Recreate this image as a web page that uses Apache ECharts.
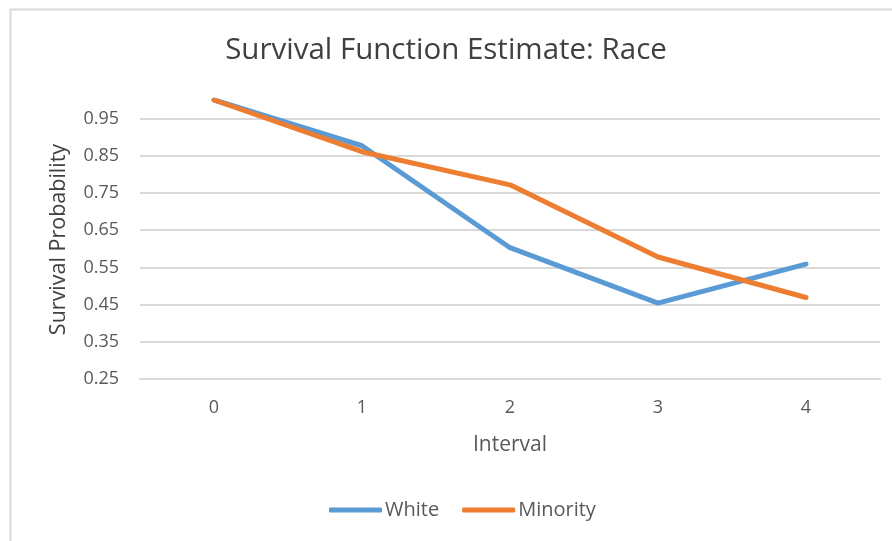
<!DOCTYPE html>
<html>
<head>
<meta charset="utf-8">
<script src="https://cdn.jsdelivr.net/npm/echarts@6/dist/echarts.min.js"></script>
<style>
  html, body { margin: 0; padding: 0; background: #ffffff; }
  #chart { width: 892px; height: 541px; }
</style>
</head>
<body>
<div id="chart"></div>
<script>
// Survival probability per interval, by group
const intervals = ['0', '1', '2', '3', '4'];
const whiteValues = [1.0, 0.877, 0.603, 0.454, 0.559];
const minorityValues = [1.0, 0.861, 0.772, 0.578, 0.469];
const yTicks = [0.25, 0.35, 0.45, 0.55, 0.65, 0.75, 0.85, 0.95];

const FONT = 'Open Sans';
const LABEL_COLOR = '#595959';
const GRID_COLOR = '#d9d9d9';

const chart = echarts.init(document.getElementById('chart'), null, { renderer: 'canvas' });

chart.setOption({
  backgroundColor: '#ffffff',
  animation: false,
  textStyle: { fontFamily: FONT },
  title: {
    text: 'Survival Function Estimate: Race',
    left: 'center',
    top: 31,
    textStyle: { fontFamily: FONT, fontSize: 29.5, fontWeight: 'normal', color: '#404040' }
  },
  graphic: [{
    type: 'rect',
    shape: { x: 10.5, y: 9.5, width: 1000, height: 1000 },
    style: { fill: 'none', stroke: GRID_COLOR, lineWidth: 2 },
    silent: true,
    z: -1
  }],
  legend: {
    bottom: 16,
    left: 324,
    itemWidth: 53,
    itemHeight: 5,
    itemGap: 23,
    icon: 'roundRect',
    textStyle: { fontFamily: FONT, fontSize: 20, color: LABEL_COLOR, padding: [0, 0, 0, -2] },
    data: ['White', 'Minority']
  },
  grid: { left: 140, right: 12, top: 100, bottom: 162, containLabel: false },
  xAxis: {
    type: 'category',
    data: intervals,
    boundaryGap: true,
    name: 'Interval',
    nameLocation: 'middle',
    nameGap: 56,
    nameTextStyle: { fontFamily: FONT, fontSize: 21, color: LABEL_COLOR },
    axisLine: { show: true, lineStyle: { color: GRID_COLOR, width: 2 } },
    axisTick: { show: false },
    axisLabel: { fontFamily: FONT, fontSize: 18, color: LABEL_COLOR, margin: 20 }
  },
  yAxis: {
    type: 'value',
    min: 0.25,
    max: 1.0,
    name: 'Survival Probability',
    nameLocation: 'middle',
    nameGap: 70,
    nameTextStyle: { fontFamily: FONT, fontSize: 21.5, color: '#404040' },
    axisLine: { show: false },
    axisTick: { show: false, customValues: yTicks },
    axisLabel: {
      customValues: yTicks,
      fontFamily: FONT,
      fontSize: 18,
      color: LABEL_COLOR,
      margin: 21,
      formatter: v => v.toFixed(2)
    },
    splitLine: { show: true, lineStyle: { color: GRID_COLOR, width: 2 } }
  },
  series: [
    {
      name: 'White',
      type: 'line',
      data: whiteValues,
      symbol: 'none',
      lineStyle: { color: '#5b9bd5', width: 5, cap: 'round', join: 'round' },
      itemStyle: { color: '#5b9bd5' }
    },
    {
      name: 'Minority',
      type: 'line',
      data: minorityValues,
      symbol: 'none',
      lineStyle: { color: '#ed7d31', width: 5, cap: 'round', join: 'round' },
      itemStyle: { color: '#ed7d31' }
    }
  ]
});
</script>
</body>
</html>
